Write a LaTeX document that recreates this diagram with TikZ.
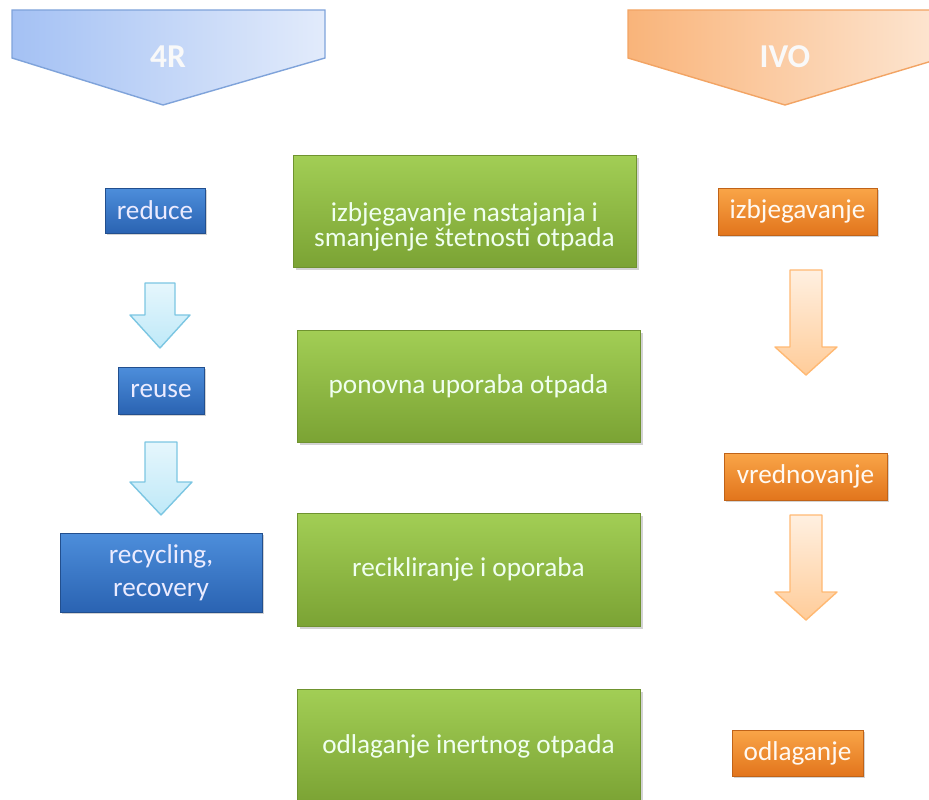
\documentclass[tikz,border=0pt]{standalone}
\usepackage{fontspec}
\setmainfont{Carlito}
\usetikzlibrary{shadows}

\definecolor{greentop}{HTML}{A2CE55}
\definecolor{greenbot}{HTML}{7BA334}
\definecolor{bluetop}{HTML}{4D8EDB}
\definecolor{bluebot}{HTML}{2A63B2}
\definecolor{orangetop}{HTML}{F9A548}
\definecolor{orangebot}{HTML}{E2751C}
\definecolor{headblueL}{HTML}{A4C1F4}
\definecolor{headblueR}{HTML}{E2EBFB}
\definecolor{headblueD}{HTML}{7FA3DA}
\definecolor{headorL}{HTML}{F9B47A}
\definecolor{headorR}{HTML}{FDE6D2}
\definecolor{headorD}{HTML}{F2A464}
\definecolor{arrblue}{HTML}{BFE9F8}
\definecolor{arrblueD}{HTML}{7CC6E2}

\tikzstyle{stagetext} = [text=white!94!green, font=\fontsize{15.5}{14.5}\selectfont, align=center, inner sep=0pt]
\tikzstyle{stage} = [stagetext, rectangle, draw=greenbot!90!black, top color=greentop, bottom color=greenbot,
	drop shadow={shadow xshift=1.5pt, shadow yshift=-1.5pt, opacity=0.35}]
\tikzstyle{rbox} = [rectangle, draw=bluebot!80!black, top color=bluetop, bottom color=bluebot,
	drop shadow={shadow xshift=1.2pt, shadow yshift=-1.2pt, opacity=0.35},
	text=white!92!blue, font=\fontsize{15.5}{19}\selectfont, align=center, inner sep=0pt]
\tikzstyle{obox} = [rectangle, draw=orangebot!85!black, top color=orangetop, bottom color=orangebot,
	drop shadow={shadow xshift=1.2pt, shadow yshift=-1.2pt, opacity=0.35},
	text=white!95!orange, font=\fontsize{15.5}{18}\selectfont, align=center, inner sep=0pt]
\tikzstyle{header} = [text=white!95!gray, font=\fontsize{19}{22}\selectfont\bfseries]
\tikzstyle{bluearrow} = [draw=arrblueD, top color=arrblue!40, bottom color=arrblue, line width=0.8pt, line join=round]
\tikzstyle{orangearrow} = [draw=orange!55, top color=orange!12, bottom color=orange!40, line width=0.8pt, line join=round]

\begin{document}
\begin{tikzpicture}[x=0.02cm, y=-0.02cm]
	\useasboundingbox (0,0) rectangle (929,800);
	\clip (0,0) rectangle (929,800);
	
	% headers
	\shade[left color=headblueL, right color=headblueR, draw=headblueD, line width=0.8pt]
		(12,10) -- (325,10) -- (325,58) -- (163,105) -- (12,58) -- cycle;
	\node[header] (h4r) at (168,57) {4R};
	\shade[left color=headorL, right color=headorR, draw=headorD, line width=0.8pt]
		(628,10) -- (942,10) -- (942,58) -- (785,105) -- (628,58) -- cycle;
	\node[header] (hivo) at (785,57) {IVO};
	
	% middle column
	\node[stage, minimum width=6.86cm, minimum height=2.24cm] (s1) at (464.5,211) {};
	\node[stagetext] (t1) at (464.5,227) {izbjegavanje nastajanja i\\smanjenje štetnosti otpada};
	\node[stage, minimum width=6.86cm, minimum height=2.24cm] (s2) at (468.5,386) {ponovna uporaba otpada};
	\node[stage, minimum width=6.86cm, minimum height=2.26cm] (s3) at (468.5,569.5) {recikliranje i oporaba};
	\node[stage, minimum width=6.86cm, minimum height=2.26cm] (s4) at (468.5,746) {odlaganje inertnog otpada};
	
	% 4R column
	\node[rbox, minimum width=2.0cm, minimum height=0.9cm] (r1) at (155,210.5) {reduce};
	\node[rbox, minimum width=1.72cm, minimum height=0.94cm] (r2) at (161,390.5) {reuse};
	\node[rbox, minimum width=4.04cm, minimum height=1.58cm] (r3) at (161,572.5) {recycling,\\recovery};
	
	\draw[bluearrow] (145,283) -- (175,283) -- (175,315) -- (190,315) -- (160,348) -- (130,315) -- (145,315) -- cycle;
	\draw[bluearrow] (145,442) -- (177,442) -- (177,482) -- (192,482) -- (161,515) -- (130,482) -- (145,482) -- cycle;
	
	% IVO column
	\node[obox, minimum width=3.18cm, minimum height=0.94cm] (o1) at (797.5,211.5) {izbjegavanje};
	\node[obox, minimum width=3.26cm, minimum height=0.94cm] (o2) at (805.5,476.5) {vrednovanje};
	\node[obox, minimum width=2.62cm, minimum height=0.92cm] (o3) at (797.5,753) {odlaganje};
	
	\draw[orangearrow] (790,270) -- (822,270) -- (822,347) -- (837,347) -- (806,375) -- (775,347) -- (790,347) -- cycle;
	\draw[orangearrow] (790,515) -- (822,515) -- (822,592) -- (837,592) -- (806,620) -- (775,592) -- (790,592) -- cycle;
\end{tikzpicture}
\end{document}
